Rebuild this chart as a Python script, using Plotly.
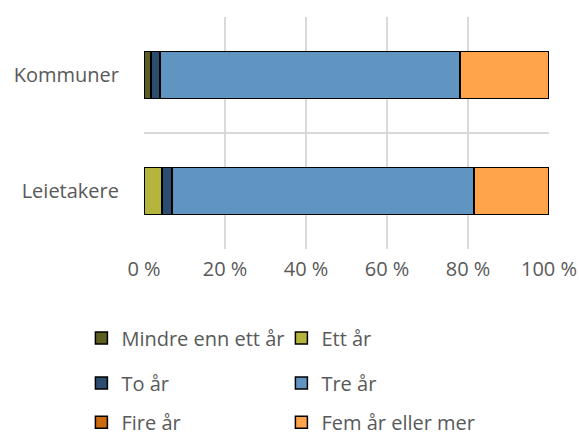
import plotly.graph_objects as go

categories = ["Kommuner", "Leietakere"]
series_names = ["Mindre enn ett år", "Ett år", "To år", "Tre år", "Fire år", "Fem år eller mer"]
mindre = [1.7, 0.0]
ett = [0.0, 4.4]
to = [2.2, 2.5]
tre = [74.1, 74.6]
fire = [0.0, 0.0]
fem = [22.0, 18.5]
values = [mindre, ett, to, tre, fire, fem]
colors = ["#5b5f22", "#b5b43c", "#2c4d6e", "#6095c2", "#cc6a10", "#ffa44a"]
tick_vals = [0, 20, 40, 60, 80, 100]
tick_text = ["0 %", "20 %", "40 %", "60 %", "80 %", "100 %"]

legend_ids = ["legend", "legend", "legend2", "legend2", "legend3", "legend3"]

fig = go.Figure()
for name, vals, col, lg in zip(series_names, values, colors, legend_ids):
    fig.add_trace(go.Bar(
        y=categories, x=vals, name=name, orientation="h", legend=lg,
        marker=dict(color=col, line=dict(color="#000000", width=1.5)),
    ))

font = dict(family="'Open Sans', sans-serif", size=20, color="#595959")

def leg(yv):
    return dict(
        orientation="h", xref="container", x=0.1406, xanchor="left",
        yref="container", y=yv, yanchor="middle",
        entrywidth=155, entrywidthmode="pixels", traceorder="normal",
        font=font, bgcolor="rgba(0,0,0,0)",
    )

fig.update_layout(
    barmode="stack",
    bargap=0.595,
    width=579, height=437,
    margin=dict(l=144, r=30, t=17, b=188),
    plot_bgcolor="white", paper_bgcolor="white",
    font=font,
    showlegend=True,
    legend=leg(0.2265),
    legend2=leg(0.1236),
    legend3=leg(0.0335),
    xaxis=dict(
        range=[0, 100], tickmode="array", tickvals=tick_vals, ticktext=tick_text,
        showgrid=True, gridcolor="#d9d9d9", gridwidth=1.5,
        zeroline=False, showline=False, ticks="", tickfont=font,
        automargin=False, ticklabelstandoff=6,
    ),
    yaxis=dict(
        categoryorder="array", categoryarray=categories[::-1],
        range=[-0.5, 1.5], tickson="boundaries", showgrid=True,
        gridcolor="#d9d9d9", gridwidth=1.5, ticks="", ticklen=0,
        showline=False, zeroline=False, tickfont=font,
        automargin=False, ticklabelstandoff=24,
    ),
)
fig.write_html("out.html", config={"displayModeBar": False},
               post_script="document.body.style.margin='0';")
